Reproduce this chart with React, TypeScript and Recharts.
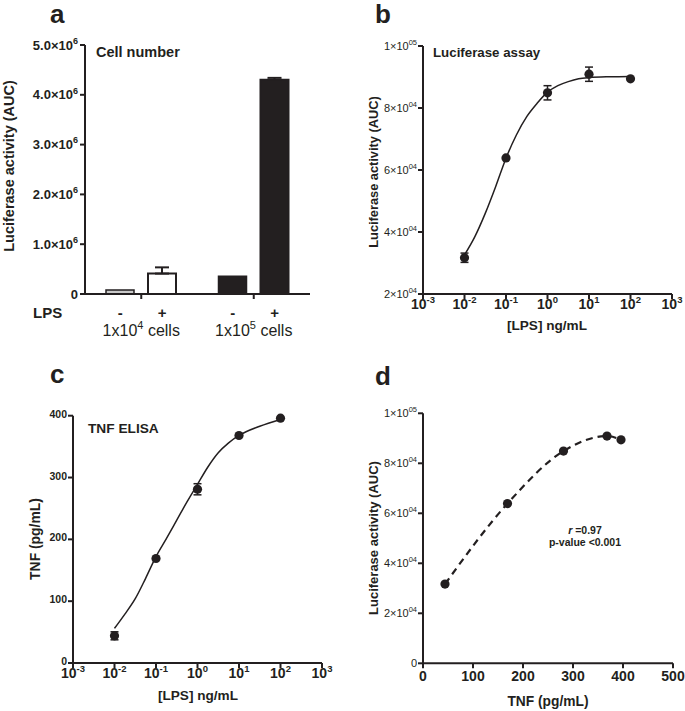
import React from 'react';
import { BarChart, Bar, ComposedChart, LineChart, Line, Scatter, XAxis, YAxis, ErrorBar, Cell } from 'recharts';

const INK = '#231f20';
const FONT = '"Liberation Sans", Arial, Helvetica, sans-serif';

// a: cell number
const cellGroups = ['1x10^4 cells', '1x10^5 cells'];
const lpsMinus = [80000, 355000];
const lpsPlus = [410000, 4300000];
const lpsPlusErr = [125000, 40000];
const minusFill = ['#c9c9c9', INK];
const plusFill = ['#ffffff', INK];
const aYTicks = [0, 1e6, 2e6, 3e6, 4e6, 5e6];
const aYLabels = ['0', '1.0×10^6', '2.0×10^6', '3.0×10^6', '4.0×10^6', '5.0×10^6'];

// b: luciferase vs LPS dose
const lpsDose = [0.01, 0.1, 1, 10, 100];
const lucMean = [31700, 63900, 84900, 90900, 89400];
const lucErr = [1500, 0, 2300, 2300, 0];
const fitLog = [-2, -1.75, -1.5, -1.25, -1, -0.75, -0.5, -0.25, 0, 0.25, 0.5, 0.75, 1, 1.5, 2];
const lucFit = [32600, 38500, 46000, 54600, 63800, 71300, 77200, 81500, 85100, 87200, 88500, 89400, 89800, 90100, 90200];
const logTicks = [0.001, 0.01, 0.1, 1, 10, 100, 1000];
const logLabels = ['10^-3', '10^-2', '10^-1', '10^0', '10^1', '10^2', '10^3'];
const lucTicks = [20000, 40000, 60000, 80000, 100000];
const lucLabels = ['2×10^04', '4×10^04', '6×10^04', '8×10^04', '1×10^05'];

// c: TNF ELISA
const tnfMean = [44, 169, 281, 368, 396];
const tnfErr = [6.5, 0, 9, 0, 0];
const tnfFit = [56, 79, 104, 137, 172, 201, 231, 261, 289, 317, 340, 356, 368, 383, 394];
const tnfTicks = [0, 100, 200, 300, 400];

// d: correlation
const dXTicks = [0, 100, 200, 300, 400, 500];
const dYTicks = [0, 20000, 40000, 60000, 80000, 100000];
const dYLabels = ['0', '2×10^04', '4×10^04', '6×10^04', '8×10^04', '1×10^05'];

const aData = cellGroups.map((group, i) => ({
  group,
  minus: lpsMinus[i],
  plus: lpsPlus[i],
  plusErr: [0, lpsPlusErr[i]],
}));
const bPts = lpsDose.map((x, i) => ({ x, y: lucMean[i], err: lucErr[i] }));
const bFit = fitLog.map((e, i) => ({ x: Math.pow(10, e), y: lucFit[i] }));
const cPts = lpsDose.map((x, i) => ({ x, y: tnfMean[i], err: tnfErr[i] }));
const cFit = fitLog.map((e, i) => ({ x: Math.pow(10, e), y: tnfFit[i] }));
const dPts = tnfMean.map((x, i) => ({ x, y: lucMean[i] }));

function SupText({ label, supSize, fontSize, ...rest }: any) {
  const m = String(label).match(/^(.*?)\^(\S+)(.*)$/);
  if (!m) return <text fontSize={fontSize} {...rest}>{label}</text>;
  const lift = supSize * 0.65;
  return (
    <text fontSize={fontSize} {...rest}>
      {m[1]}
      <tspan fontSize={supSize} dy={-lift}>{m[2]}</tspan>
      {m[3] ? <tspan fontSize={fontSize} dy={lift}>{m[3]}</tspan> : null}
    </text>
  );
}

const makeTick = (ticks: number[], labels: string[], o: any) => (props: any) => {
  const { x, y, payload } = props;
  const v = payload.value;
  const i = ticks.findIndex((t) => Math.abs(t - v) <= Math.abs(t) * 1e-6 + 1e-9);
  const label = i >= 0 ? labels[i] : String(v);
  return (
    <SupText
      label={label}
      x={x + (o.dx || 0)}
      y={y}
      dy={o.dy}
      textAnchor={o.anchor}
      fontSize={o.size}
      supSize={o.sup}
      fontWeight={o.weight}
      fill={INK}
      fontFamily={FONT}
    />
  );
};

const GroupTick = (props: any) => {
  const { x, y, payload } = props;
  return (
    <g fill={INK} fontFamily={FONT}>
      <text x={x - 21} y={y + 17} textAnchor="middle" fontSize={15} fontWeight="bold">-</text>
      <text x={x + 21} y={y + 17} textAnchor="middle" fontSize={15} fontWeight="bold">+</text>
      <SupText label={payload.value} x={x} y={y + 35} textAnchor="middle" fontSize={16} supSize={11} />
    </g>
  );
};

const Dot = (props: any) => <circle cx={props.cx} cy={props.cy} r={4.6} fill={INK} />;

const axisStyle = {
  axisLine: { stroke: INK, strokeWidth: 2 },
  tickLine: { stroke: INK, strokeWidth: 2 },
};

function PanelA() {
  return (
    <BarChart width={340} height={340} data={aData} margin={{ top: 45, right: 30, bottom: 6, left: 25 }} barSize={28} barGap={14}>
      <XAxis dataKey="group" height={40} tickSize={5} tick={<GroupTick />} {...axisStyle} />
      <YAxis
        width={60}
        domain={[0, 5e6]}
        ticks={aYTicks}
        interval={0}
        tickSize={5}
        tickMargin={2}
        tick={makeTick(aYTicks, aYLabels, { anchor: 'end', dy: '0.35em', size: 13, sup: 9, weight: 'bold' })}
        {...axisStyle}
      />
      <Bar dataKey="minus" stroke={INK} strokeWidth={1.5} isAnimationActive={false}>
        {aData.map((_, i) => <Cell key={i} fill={minusFill[i]} />)}
      </Bar>
      <Bar dataKey="plus" stroke={INK} strokeWidth={2} isAnimationActive={false}>
        {aData.map((_, i) => <Cell key={i} fill={plusFill[i]} />)}
        <ErrorBar dataKey="plusErr" direction="y" width={7} stroke={INK} strokeWidth={2} />
      </Bar>
    </BarChart>
  );
}

function DoseChart({ pts, fit, yTicks, yTick, yDomain, height, margin, yWidth }: any) {
  return (
    <ComposedChart width={margin.w} height={height} margin={margin.m}>
      <XAxis
        type="number"
        dataKey="x"
        scale="log"
        domain={[0.001, 1000]}
        ticks={logTicks}
        interval={0}
        allowDataOverflow
        height={30}
        tickSize={5}
        tickMargin={0}
        tick={makeTick(logTicks, logLabels, { anchor: 'middle', dy: '0.72em', size: 14, sup: 9.5, weight: 'bold' })}
        {...axisStyle}
      />
      <YAxis type="number" dataKey="y" width={yWidth} domain={yDomain} ticks={yTicks} interval={0} tickSize={5} tickMargin={1} tick={yTick} {...axisStyle} />
      <Line data={fit} dataKey="y" type="monotone" dot={false} stroke={INK} strokeWidth={1.5} isAnimationActive={false} />
      <Scatter data={pts} dataKey="y" fill={INK} shape={<Dot />} isAnimationActive={false}>
        <ErrorBar dataKey="err" direction="y" width={4} stroke={INK} strokeWidth={1.5} />
      </Scatter>
    </ComposedChart>
  );
}

function PanelD() {
  return (
    <LineChart width={345} height={381} data={dPts} margin={{ top: 83.3, right: 12, bottom: 17.7, left: 23 }}>
      <XAxis
        type="number"
        dataKey="x"
        domain={[0, 500]}
        ticks={dXTicks}
        interval={0}
        height={30}
        tickSize={5}
        tickMargin={3}
        tick={{ fill: INK, fontSize: 14, fontWeight: 'bold', fontFamily: FONT }}
        {...axisStyle}
      />
      <YAxis
        type="number"
        width={60}
        domain={[0, 100000]}
        ticks={dYTicks}
        interval={0}
        tickSize={5}
        tickMargin={1}
        tick={makeTick(dYTicks, dYLabels, { anchor: 'end', dy: '0.35em', size: 11, sup: 7.5, weight: 'normal' })}
        {...axisStyle}
      />
      <Line
        dataKey="y"
        type="monotone"
        stroke={INK}
        strokeWidth={2.2}
        strokeDasharray="7 5"
        dot={{ r: 4.6, fill: INK, stroke: 'none' }}
        isAnimationActive={false}
      />
    </LineChart>
  );
}

const T = (p: any) => <text fill={INK} fontFamily={FONT} fontWeight="bold" {...p} />;
const VT = ({ x, y, children, size }: any) => (
  <text x={x} y={y} transform={`rotate(-90 ${x} ${y})`} textAnchor="middle" dominantBaseline="central" fill={INK} fontFamily={FONT} fontWeight="bold" fontSize={size}>
    {children}
  </text>
);

export default function App() {
  return (
    <div style={{ position: 'absolute', left: 0, top: 0, width: 685, height: 711, background: '#fff', fontFamily: FONT }}>
      <div style={{ position: 'absolute', left: 0, top: 0 }}>
        <PanelA />
      </div>
      <div style={{ position: 'absolute', left: 340, top: 0 }}>
        <DoseChart
          pts={bPts}
          fit={bFit}
          yTicks={lucTicks}
          yDomain={[20000, 100000]}
          yWidth={60}
          height={340}
          margin={{ w: 345, m: { top: 46, right: 13, bottom: 16, left: 23 } }}
          yTick={makeTick(lucTicks, lucLabels, { anchor: 'end', dy: '0.35em', size: 11, sup: 7.5, weight: 'normal' })}
        />
      </div>
      <div style={{ position: 'absolute', left: 0, top: 330 }}>
        <DoseChart
          pts={cPts}
          fit={cFit}
          yTicks={tnfTicks}
          yDomain={[0, 400]}
          yWidth={50}
          height={381}
          margin={{ w: 340, m: { top: 85.7, right: 18, bottom: 18, left: 23 } }}
          yTick={makeTick(tnfTicks, tnfTicks.map(String), { anchor: 'end', dy: '0.2em', size: 10.5, sup: 7, weight: 'bold' })}
        />
      </div>
      <div style={{ position: 'absolute', left: 340, top: 330 }}>
        <PanelD />
      </div>
      <svg width={685} height={711} style={{ position: 'absolute', left: 0, top: 0, pointerEvents: 'none' }}>
        <T x={50} y={23} fontSize={26}>a</T>
        <T x={375} y={23} fontSize={26}>b</T>
        <T x={50} y={383} fontSize={26}>c</T>
        <T x={375} y={385} fontSize={26}>d</T>

        <T x={96} y={57} fontSize={14.5}>Cell number</T>
        <T x={433} y={57} fontSize={13.3}>Luciferase assay</T>
        <T x={88} y={433} fontSize={13.7}>TNF ELISA</T>
        <T x={33} y={318} fontSize={15}>LPS</T>

        <VT x={9} y={166} size={14.5}>Luciferase activity (AUC)</VT>
        <VT x={373} y={172} size={12.8}>Luciferase activity (AUC)</VT>
        <VT x={35} y={539} size={13.9}>TNF (pg/mL)</VT>
        <VT x={373} y={538} size={13}>Luciferase activity (AUC)</VT>

        <T x={547} y={330} fontSize={13.6} textAnchor="middle">[LPS] ng/mL</T>
        <T x={198} y={700} fontSize={13.6} textAnchor="middle">[LPS] ng/mL</T>
        <T x={548} y={706} fontSize={13.8} textAnchor="middle">TNF (pg/mL)</T>

        <T x={585} y={534} fontSize={10.5} textAnchor="middle">
          <tspan fontStyle="italic">r</tspan> =0.97
        </T>
        <T x={585} y={546} fontSize={10.5} textAnchor="middle">p-value &lt;0.001</T>
      </svg>
    </div>
  );
}
